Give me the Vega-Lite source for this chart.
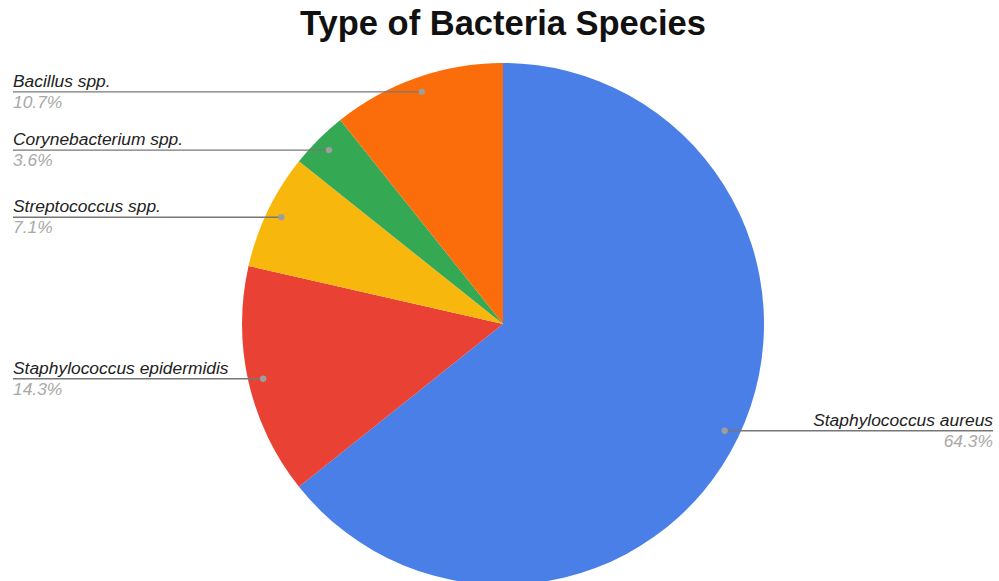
{
  "$schema": "https://vega.github.io/schema/vega-lite/v6.json",
  "autosize": "none",
  "width": 1006,
  "height": 522,
  "padding": {"left": 0, "top": 63, "right": 0, "bottom": 0},
  "background": "white",
  "config": {"view": {"stroke": null}},
  "title": {
    "text": "Type of Bacteria Species",
    "font": "Liberation Sans",
    "fontSize": 34.5,
    "fontWeight": "bold",
    "color": "#111111",
    "anchor": "middle",
    "offset": 21
  },
  "data": {
    "values": [
      {"species": "Staphylococcus aureus", "count": 18, "rank": 1},
      {"species": "Staphylococcus epidermidis", "count": 4, "rank": 2},
      {"species": "Streptococcus spp.", "count": 2, "rank": 3},
      {"species": "Corynebacterium spp.", "count": 1, "rank": 4},
      {"species": "Bacillus spp.", "count": 3, "rank": 5}
    ]
  },
  "layer": [
    {
      "mark": {"type": "arc", "outerRadius": 261},
      "encoding": {
        "theta": {"field": "count", "type": "quantitative", "stack": true},
        "order": {"field": "rank", "type": "quantitative", "sort": "ascending"},
        "color": {
          "field": "species",
          "type": "nominal",
          "legend": null,
          "scale": {
            "domain": ["Staphylococcus aureus", "Staphylococcus epidermidis", "Streptococcus spp.", "Corynebacterium spp.", "Bacillus spp."],
            "range": ["#4A7FE7", "#E94235", "#F8B70C", "#34A853", "#FA6D0A"]
          }
        }
      }
    },
    {
      "transform": [
        {"joinaggregate": [{"op": "sum", "field": "count", "as": "total"}]},
        {"window": [{"op": "sum", "field": "count", "as": "cum"}], "sort": [{"field": "rank"}], "frame": [null, 0]},
        {"calculate": "2*PI*(datum.cum - datum.count/2)/datum.total", "as": "mid"},
        {"calculate": "246*sin(datum.mid)", "as": "dotX"},
        {"calculate": "246*cos(datum.mid)", "as": "dotY"},
        {"calculate": "datum.mid > PI ? -490 : 490", "as": "edgeX"},
        {"calculate": "datum.mid > PI ? 'left' : 'right'", "as": "side"},
        {"calculate": "format(datum.count/datum.total, '.1%')", "as": "pct"}
      ],
      "encoding": {
        "x": {"type": "quantitative", "scale": {"domain": [-503, 503], "nice": false, "zero": false}, "axis": null},
        "y": {"type": "quantitative", "scale": {"domain": [-261, 261], "nice": false, "zero": false}, "axis": null}
      },
      "layer": [
        {
          "mark": {"type": "rule", "color": "#777777", "strokeWidth": 1.3},
          "encoding": {
            "x": {"field": "dotX", "type": "quantitative"},
            "x2": {"field": "edgeX"},
            "y": {"field": "dotY", "type": "quantitative"}
          }
        },
        {
          "mark": {"type": "circle", "size": 40, "color": "#9E9E9E", "opacity": 1},
          "encoding": {
            "x": {"field": "dotX", "type": "quantitative"},
            "y": {"field": "dotY", "type": "quantitative"}
          }
        },
        {
          "transform": [{"filter": "datum.side == 'left'"}],
          "mark": {"type": "text", "align": "left", "baseline": "alphabetic", "dy": -5, "font": "Liberation Sans", "fontStyle": "italic", "fontSize": 17.4, "color": "#222222"},
          "encoding": {
            "x": {"field": "edgeX", "type": "quantitative"},
            "y": {"field": "dotY", "type": "quantitative"},
            "text": {"field": "species"}
          }
        },
        {
          "transform": [{"filter": "datum.side == 'left'"}],
          "mark": {"type": "text", "align": "left", "baseline": "alphabetic", "dy": 16, "font": "Liberation Sans", "fontStyle": "italic", "fontSize": 17.4, "color": "#A8A8A8"},
          "encoding": {
            "x": {"field": "edgeX", "type": "quantitative"},
            "y": {"field": "dotY", "type": "quantitative"},
            "text": {"field": "pct"}
          }
        },
        {
          "transform": [{"filter": "datum.side == 'right'"}],
          "mark": {"type": "text", "align": "right", "baseline": "alphabetic", "dy": -5, "font": "Liberation Sans", "fontStyle": "italic", "fontSize": 17.4, "color": "#222222"},
          "encoding": {
            "x": {"field": "edgeX", "type": "quantitative"},
            "y": {"field": "dotY", "type": "quantitative"},
            "text": {"field": "species"}
          }
        },
        {
          "transform": [{"filter": "datum.side == 'right'"}],
          "mark": {"type": "text", "align": "right", "baseline": "alphabetic", "dy": 16, "font": "Liberation Sans", "fontStyle": "italic", "fontSize": 17.4, "color": "#A8A8A8"},
          "encoding": {
            "x": {"field": "edgeX", "type": "quantitative"},
            "y": {"field": "dotY", "type": "quantitative"},
            "text": {"field": "pct"}
          }
        }
      ]
    }
  ]
}
